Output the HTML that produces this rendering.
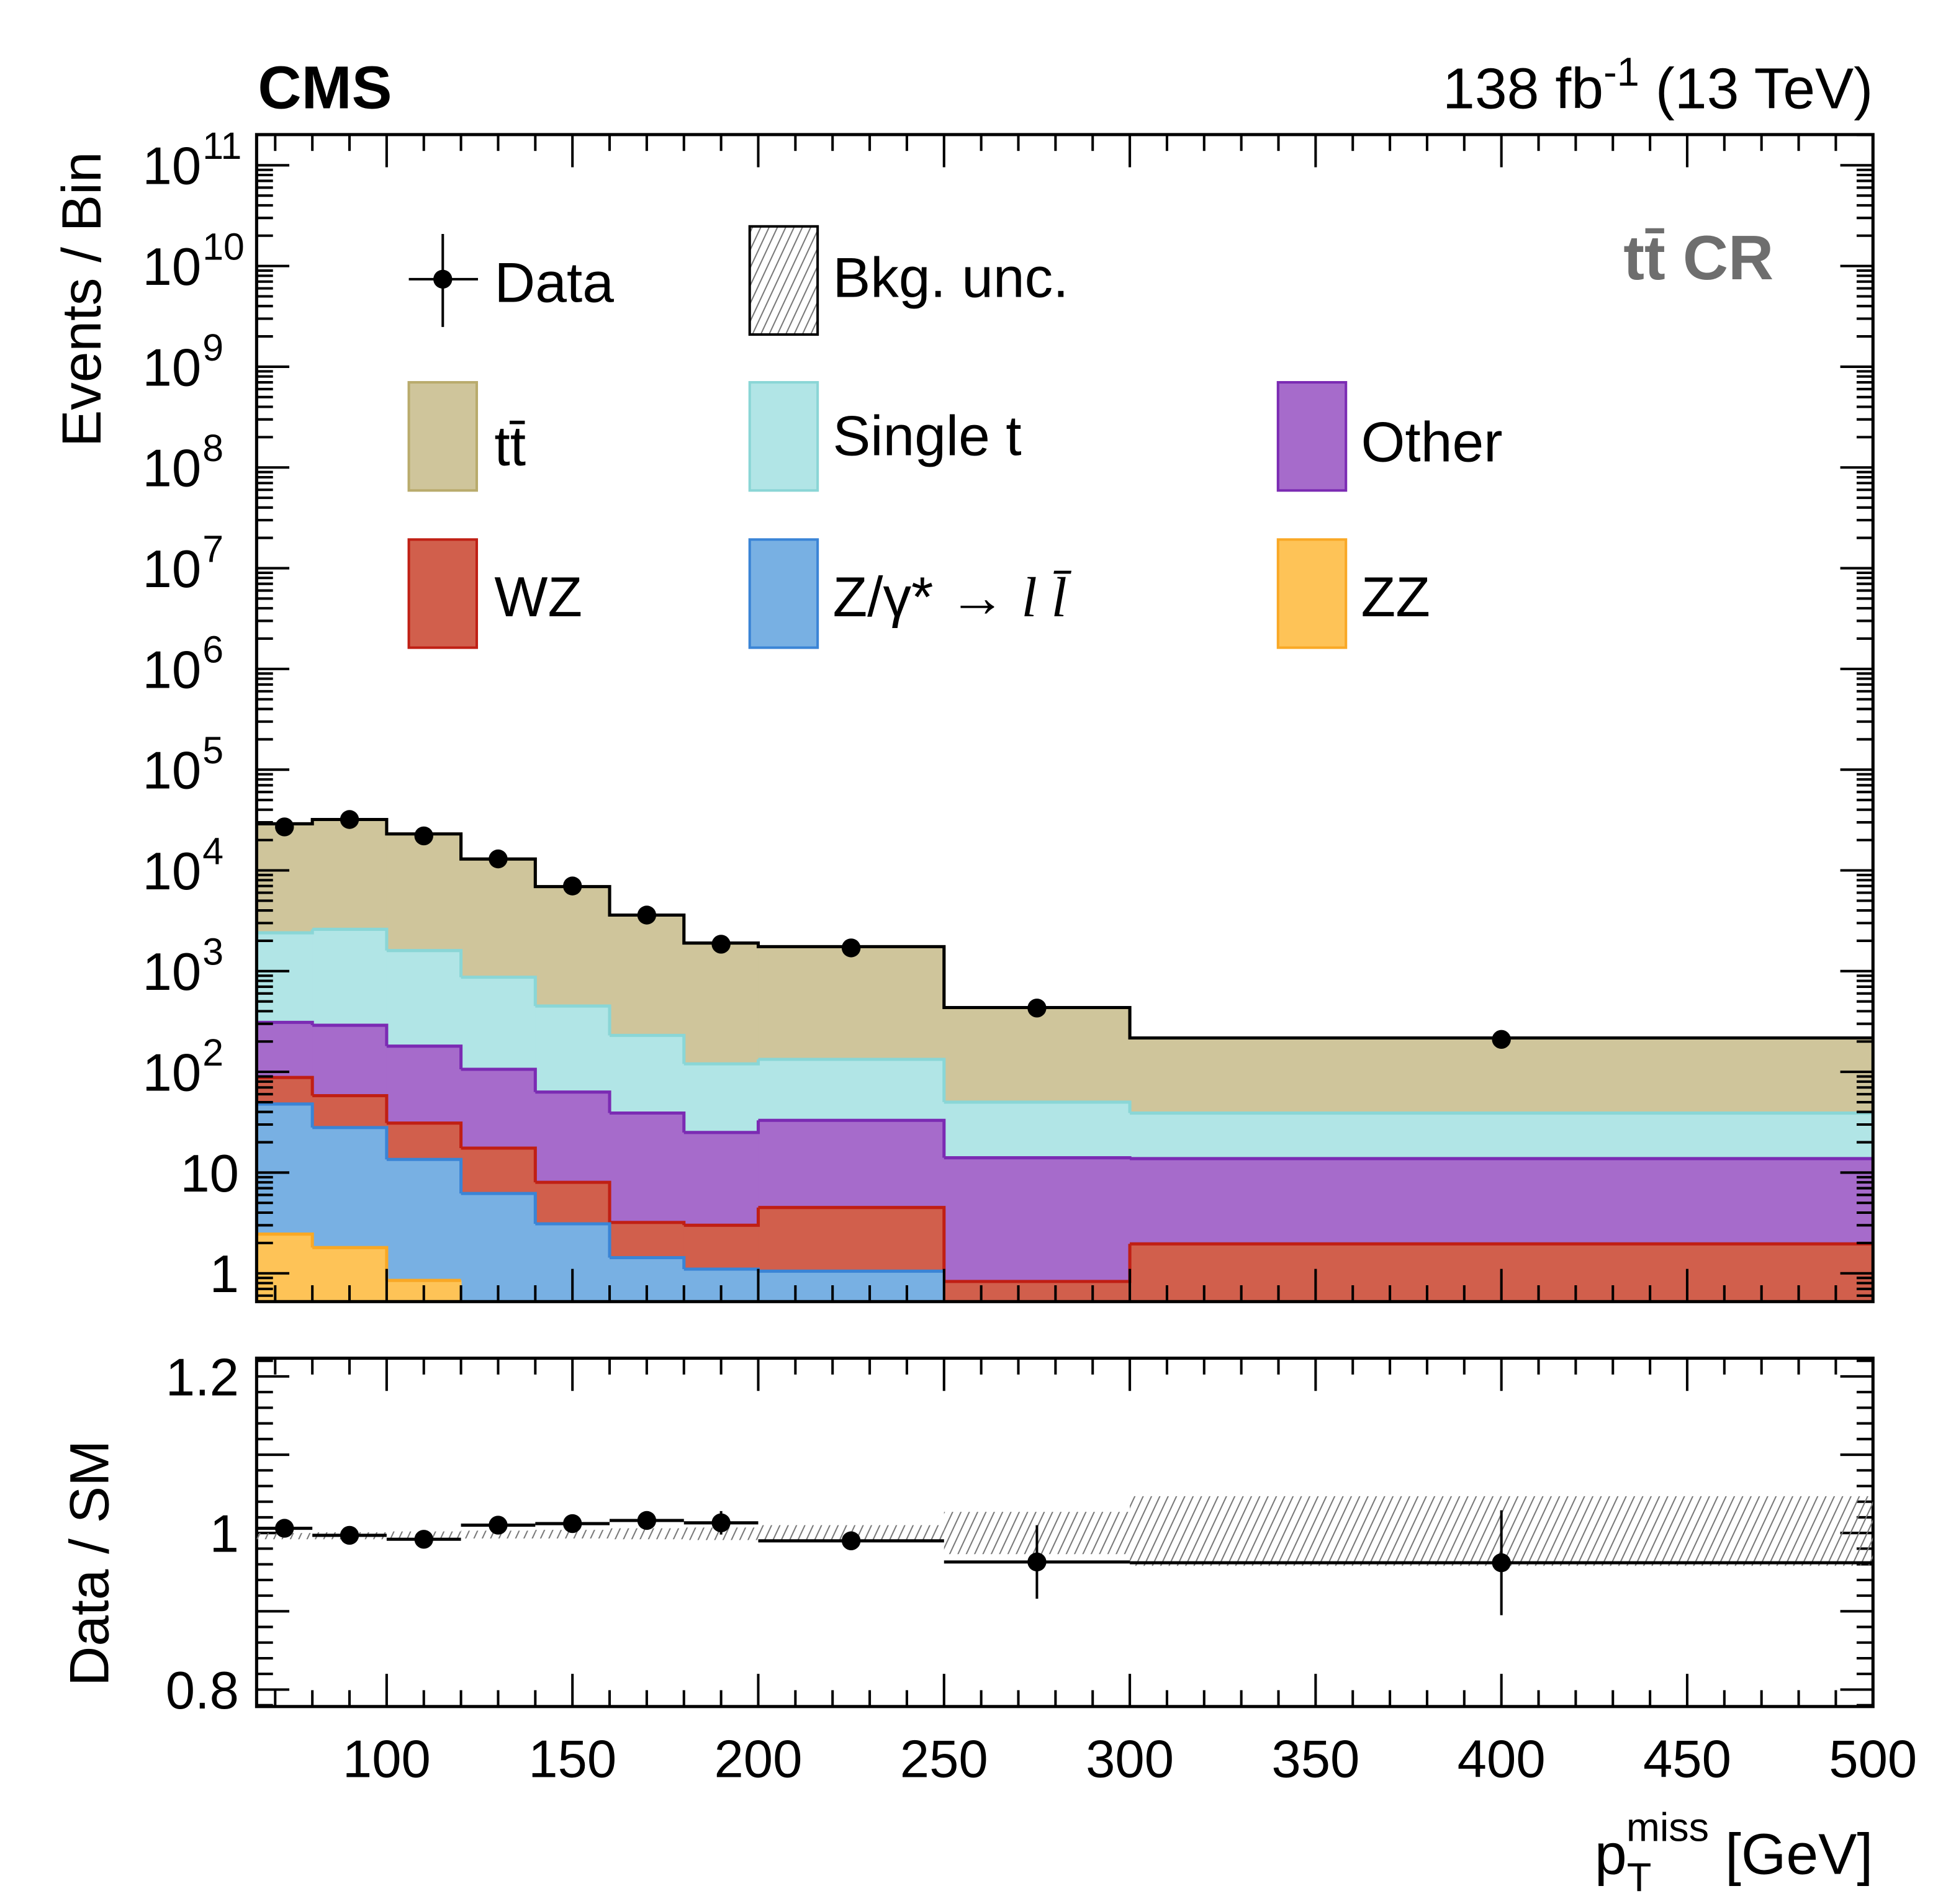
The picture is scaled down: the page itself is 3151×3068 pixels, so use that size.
<!DOCTYPE html>
<html><head><meta charset="utf-8">
<style>
html,body{margin:0;padding:0;background:#fff;}
svg{display:block;font-family:"Liberation Sans",Arial,sans-serif;}
</style></head>
<body>
<svg id="c" width="3151" height="3068" viewBox="0 0 1555 1514" xmlns="http://www.w3.org/2000/svg">
<defs>
<pattern id="hatch" patternUnits="userSpaceOnUse" width="6" height="6" patternTransform="rotate(25)">
<rect width="6" height="6" fill="#fff" fill-opacity="0"/>
<line x1="0" y1="0" x2="0" y2="6" stroke="#777" stroke-width="2"/>
</pattern>
</defs>
<g id="main"></g>
<g id="ratio"></g>
<g id="texts">
<text x="205" y="86" font-size="48" font-weight="bold">CMS</text>
<text x="1489" y="86" font-size="46" text-anchor="end">138 fb<tspan dy="-18" font-size="32">-1</tspan><tspan dy="18"> (13 TeV)</tspan></text>
<text x="1410" y="222" font-size="50" font-weight="bold" fill="#6e6e6e" text-anchor="end">tt̄ CR</text>
<text transform="translate(80,238) rotate(-90)" font-size="44" text-anchor="middle">Events / Bin</text>
<text transform="translate(86,1243) rotate(-90)" font-size="44" text-anchor="middle">Data / SM</text>
<text x="1489" y="1490" font-size="46" text-anchor="end">p<tspan dy="14" font-size="32">T</tspan><tspan dx="-20" dy="-40" font-size="32">miss</tspan><tspan dy="26"> [GeV]</tspan></text>
</g>
<g id="legend"></g>
</svg>
<script>
const edges=[65,80,100,120,140,160,180,200,250,300,500];
const zz=[2.45,1.8,0.85,0,0,0,0,0,0,0];
const dy=[45.5,26.2,12.65,6.2,3.1,1.43,1.1,1.05,0,0];
const wz=[40,30,17.5,11.3,4.9,1.77,1.9,3.45,0.83,1.96];
const other=[222,232,149,88.5,55,35.8,22,28.5,13.2,11.8];
const singlet=[2090,2310,1420,764,387,191,95,100,36,25.2];
const ttbar=[26600,29400,21400,12100,6450,3370,1780,1617,385,178];
const data=[27000,32000,22000,13000,7000,3600,1850,1700,430,210];
const ratio=[1.006,0.997,0.992,1.01,1.012,1.016,1.013,0.99,0.963,0.962];
const ratioErr=[0.004,0.004,0.005,0.006,0.007,0.01,0.015,0.012,0.047,0.067];
const uncLo=[0.992,0.992,0.993,0.993,0.993,0.992,0.991,0.99,0.973,0.958];
const uncHi=[1.0,1.001,1.002,1.003,1.004,1.006,1.007,1.01,1.027,1.047];
const xTicks=[100,150,200,250,300,350,400,450,500];
const yTicks=[0,1,2,3,4,5,6,7,8,9,10,11];
const rTicks=[0.8,1,1.2];

const NS="http://www.w3.org/2000/svg";
const L=204,R=1489,T=107,B=1035,RT=1080,RB=1357;
const X=v=>L+(v-65)*(R-L)/(500-65);
const Y=v=>1012.5-80.1*Math.log10(Math.max(v,1e-3));
const YR=v=>1219-(v-1)*622.5;
function mk(p,tag,a){const e=document.createElementNS(NS,tag);for(const k in a)e.setAttribute(k,a[k]);p.appendChild(e);return e;}
const main=document.getElementById('main'),rat=document.getElementById('ratio'),leg=document.getElementById('legend');
mk(main,'clipPath',{id:'clipm'});mk(document.getElementById('clipm'),'rect',{x:L,y:T,width:R-L,height:B-T});

const comps=[
 {n:'ttbar',v:ttbar,f:'#cfc59b',s:'#b9ab6c'},
 {n:'single-t',v:singlet,f:'#b1e5e6',s:'#8ad6d6'},
 {n:'other',v:other,f:'#a66bcb',s:'#7b2bb3'},
 {n:'wz',v:wz,f:'#d15f4c',s:'#c01f14'},
 {n:'dy',v:dy,f:'#78b0e3',s:'#3a84d6'},
 {n:'zz',v:zz,f:'#fec357',s:'#f9a825'}];
const order=['zz','dy','wz','other','single-t','ttbar'];
const cum={};let run=new Array(10).fill(0);
order.forEach(n=>{const c=comps.find(o=>o.n==n);run=run.map((r,i)=>r+c.v[i]);cum[n]=run.slice();});
const gstack=mk(main,'g',{'clip-path':'url(#clipm)'});
comps.forEach(c=>{
  const top=cum[c.n];
  for(let i=0;i<10;i++){
    if(c.v[i]<=0)continue;
    const r=mk(gstack,'rect',{x:X(edges[i]),y:Y(top[i]),width:X(edges[i+1])-X(edges[i])+0.5,height:B-Y(top[i]),fill:c.f});
    
    
  }
  let d='';
  for(let i=0;i<10;i++){if(c.v[i]<=0)continue;d+=`M${X(edges[i])},${Y(top[i])}H${X(edges[i+1])}`;if(i<9&&c.v[i+1]>0)d+=`V${Y(top[i+1])}`;}
  const p=mk(gstack,'path',{d:d,fill:'none',stroke:c.s,'stroke-width':2.5});
  
  
});
let d='';const tot=cum['ttbar'];
for(let i=0;i<10;i++){d+=(i?'L':'M')+X(edges[i])+','+Y(tot[i])+'H'+X(edges[i+1]);}
const tp=mk(gstack,'path',{d:d,fill:'none',stroke:'#000','stroke-width':2.5});


for(let i=0;i<10;i++){
  const cx=(X(edges[i])+X(edges[i+1]))/2;
  const c=mk(main,'circle',{cx:cx,cy:Y(data[i]),r:7.5,fill:'#000'});
  
  
}
[[T,B],[RT,RB]].forEach(([t,b],k)=>{const g=k?rat:main;const f=mk(g,'rect',{x:L,y:t,width:R-L,height:b-t,fill:'none',stroke:'#000','stroke-width':2.5});

});
for(let v=70;v<=500;v+=10){
  const maj=v%50==0,len=maj?26:13,x=X(v);
  [[T,1],[B,-1],[RT,1],[RB,-1]].forEach(([y0,s])=>mk(main,'line',{x1:x,x2:x,y1:y0,y2:y0+s*len,stroke:'#000','stroke-width':2}));
}
xTicks.forEach(v=>{const t=mk(main,'text',{x:X(v),y:1413,'font-size':42,'text-anchor':'middle'});t.textContent=v;

});
for(let e=-1;e<=11;e++){for(let m=1;m<10;m++){const v=m*Math.pow(10,e),y=Y(v);if(y<T||y>B)continue;const len=m==1?26:13;
mk(main,'line',{x1:L,x2:L+len,y1:y,y2:y,stroke:'#000','stroke-width':2});mk(main,'line',{x1:R,x2:R-len,y1:y,y2:y,stroke:'#000','stroke-width':2});}}
yTicks.forEach(e=>{const t=mk(main,'text',{x:e<2?190:160,y:Y(Math.pow(10,e))+15,'font-size':42,'text-anchor':'end'});


if(e==0)t.textContent='1';else if(e==1)t.textContent='10';else{t.textContent='10';const s=mk(t,'tspan',{dy:-20,'font-size':30,x:161});s.setAttribute('text-anchor','start');s.textContent=e;}});
for(let v=0.78;v<=1.221;v+=0.02){const y=YR(v);const len=Math.abs((v*10)%1)<0.01||Math.abs((v*10)%1-1)<0.01?26:13;
mk(rat,'line',{x1:L,x2:L+len,y1:y,y2:y,stroke:'#000','stroke-width':2});mk(rat,'line',{x1:R,x2:R-len,y1:y,y2:y,stroke:'#000','stroke-width':2});}
rTicks.forEach(v=>{const t=mk(rat,'text',{x:190,y:YR(v)+15,'font-size':42,'text-anchor':'end'});t.textContent=v==1?'1':v.toFixed(1);

});
for(let i=0;i<10;i++){
  const x0=X(edges[i]),x1=X(edges[i+1]),cx=(x0+x1)/2;
  const b=mk(rat,'rect',{x:x0,y:YR(uncHi[i]),width:x1-x0,height:YR(uncLo[i])-YR(uncHi[i]),fill:'url(#hatch)'});
  
  
  mk(rat,'line',{x1:x0,x2:x1,y1:YR(ratio[i]),y2:YR(ratio[i]),stroke:'#000','stroke-width':2.5});
  mk(rat,'line',{x1:cx,x2:cx,y1:YR(ratio[i]+ratioErr[i]),y2:YR(ratio[i]-ratioErr[i]),stroke:'#000','stroke-width':2});
  const c=mk(rat,'circle',{cx:cx,cy:YR(ratio[i]),r:7.5,fill:'#000'});
  
  
}
mk(leg,'line',{x1:325,x2:380,y1:222,y2:222,stroke:'#000','stroke-width':2});
mk(leg,'line',{x1:352,x2:352,y1:186,y2:260,stroke:'#000','stroke-width':2});
mk(leg,'circle',{cx:352,cy:222,r:7.5,fill:'#000'});
const lt=(x,y,s,n)=>{const t=mk(leg,'text',{x:x,y:y,'font-size':45});t.textContent=s;

return t;};
lt(393,240,'Data','legend-data');
mk(leg,'rect',{x:596,y:180,width:54,height:86,fill:'url(#hatch)',stroke:'#000','stroke-width':2});
lt(662,236,'Bkg. unc.','legend-bkg-unc');
const boxes=[[325,304,'#cfc59b','#b9ab6c','tt̄',393,370],[596,304,'#b1e5e6','#8ad6d6','Single t',662,362],[1016,304,'#a66bcb','#7b2bb3','Other',1082,367],
[325,429,'#d15f4c','#c01f14','WZ',393,490],[596,429,'#78b0e3','#3a84d6','Z/γ* → ',662,490],[1016,429,'#fec357','#f9a825','ZZ',1082,490]];
boxes.forEach(b=>{mk(leg,'rect',{x:b[0],y:b[1],width:54,height:86,fill:b[2],stroke:b[3],'stroke-width':2});const t=lt(b[5],b[6],b[4],'legend-entry');
if(b[4].startsWith('Z/')){const s=mk(t,'tspan',{'font-family':'Liberation Serif, serif','font-style':'italic'});s.textContent='l l̄';}});
</script>
</body></html>
